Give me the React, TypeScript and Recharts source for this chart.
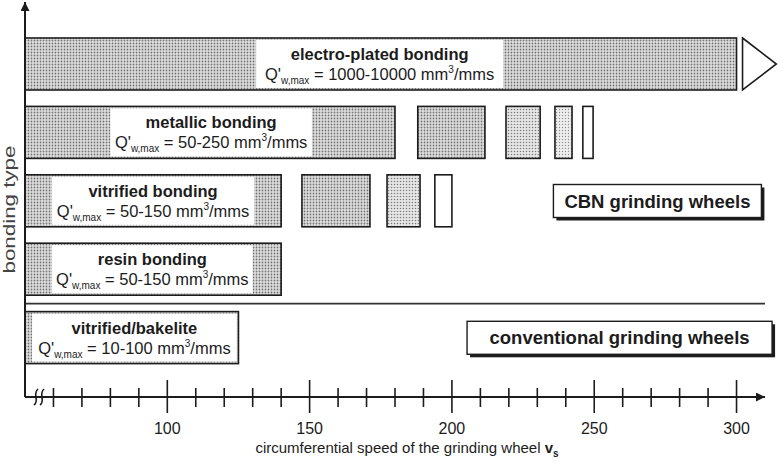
import React from 'react';
import { BarChart, Bar, XAxis, YAxis, ReferenceLine, ReferenceDot } from 'recharts';

// ---------- data ----------
const categories = [
  'electro-plated bonding',
  'metallic bonding',
  'vitrified bonding',
  'resin bonding',
  'vitrified/bakelite',
];
const qRanges = ['1000-10000', '50-250', '50-150', '50-150', '10-100'];
const mainBars: [number, number][] = [
  [50, 300],
  [50, 180],
  [50, 140],
  [50, 140],
  [50, 125],
];
const labelAreas: [number, number][] = [
  [131.2, 218],
  [80, 150.8],
  [59.5, 130.5],
  [59.5, 130],
  [52.5, 124.4],
];
const segment1: ([number, number] | null)[] = [null, [188, 211.6], [147.3, 171.2], null, null];
const segment2: ([number, number] | null)[] = [null, [219, 231], [177.2, 188.8], null, null];
const segment3: ([number, number] | null)[] = [null, [236.2, 242.2], [194, 200], null, null];
const segment4: ([number, number] | null)[] = [null, [246, 249.6], null, null, null];
const openEnded = [true, false, false, false, false];

const groupLabels = ['CBN grinding wheels', 'conventional grinding wheels'];
const groupRows = ['vitrified bonding', 'vitrified/bakelite'];
const groupSpeeds = [272.2, 258.9];

const axisTicks = [
  50, 60, 70, 80, 90, 100, 110, 120, 130, 140, 150, 160, 170, 180, 190, 200,
  210, 220, 230, 240, 250, 260, 270, 280, 290, 300,
];
const majorTicks = [100, 150, 200, 250, 300];
const xTitle = 'circumferential speed of the grinding wheel';
const yTitle = 'bonding type';

const data = categories.map((name, i) => ({
  name,
  q: qRanges[i],
  main: mainBars[i],
  label: labelAreas[i],
  s1: segment1[i],
  s2: segment2[i],
  s3: segment3[i],
  s4: segment4[i],
  open: openEnded[i],
}));

// ---------- styling ----------
const FONT = '"Liberation Sans", Arial, Helvetica, sans-serif';
const INK = '#1c1c1c';

const ok = (...v: any[]) => v.every((n) => typeof n === 'number' && Number.isFinite(n));

const MainShape = (props: any) => {
  const { x, y, width, height, payload } = props;
  if (!ok(x, y, width, height) || width <= 0) return null;
  const tx = x + width + 6;
  return (
    <g>
      <rect x={x} y={y} width={width} height={height} fill="url(#dotsMid)" stroke={INK} strokeWidth={1.6} />
      {payload && payload.open ? (
        <path
          d={`M${tx},${y} L${tx + height * 0.65},${y + height / 2} L${tx},${y + height} Z`}
          fill="#fff"
          stroke={INK}
          strokeWidth={1.6}
        />
      ) : null}
    </g>
  );
};

const QLine = ({ x, y, range }: { x: number; y: number; range: string }) => (
  <text x={x} y={y} textAnchor="middle" fontFamily={FONT} fontSize={16.5} fill={INK}>
    <tspan>Q'</tspan>
    <tspan fontSize={10} dy={4}>w,max</tspan>
    <tspan dy={-4}>{` = ${range} mm`}</tspan>
    <tspan fontSize={10} dy={-7}>3</tspan>
    <tspan dy={7}>/mms</tspan>
  </text>
);

const LabelShape = (props: any) => {
  const { x, y, width, height, payload } = props;
  if (!ok(x, y, width, height) || width <= 0) return null;
  const cx = x + width / 2;
  const cy = y + height / 2;
  return (
    <g>
      <rect x={x} y={y + 2} width={width} height={height - 4} fill="#fff" />
      <text x={cx} y={cy - 4} textAnchor="middle" fontFamily={FONT} fontWeight="bold" fontSize={16.5} fill={INK}>
        {payload.name}
      </text>
      <QLine x={cx} y={cy + 16} range={payload.q} />
    </g>
  );
};

const fills = ['url(#dotsMid)', 'url(#dotsLight)', 'url(#dotsLighter)'];
const makeSegShape = (k: number) => (props: any) => {
  const { x, y, width, height, payload } = props;
  if (!ok(x, y, width, height) || width <= 0 || !payload) return null;
  const segs = [payload.s1, payload.s2, payload.s3, payload.s4].filter(Boolean);
  const last = k === segs.length - 1;
  const fill = last ? '#fff' : fills[Math.min(k, fills.length - 1)];
  return <rect x={x} y={y} width={width} height={height} fill={fill} stroke={INK} strokeWidth={1.6} />;
};

const AxisTick = (props: any) => {
  const { x, y, payload } = props;
  const v = payload.value;
  if (v === axisTicks[0]) {
    return (
      <g>
        {[11, 17].map((o) => (
          <path
            key={o}
            d={`M${x + o - 2},${y + 8} C${x + o + 4},${y + 4} ${x + o - 4},${y - 3} ${x + o + 2},${y - 8}`}
            fill="none"
            stroke={INK}
            strokeWidth={1.6}
          />
        ))}
      </g>
    );
  }
  const major = majorTicks.includes(v);
  return (
    <g>
      <line x1={x} x2={x} y1={y - (major ? 17 : 9)} y2={y + (major ? 16 : 10)} stroke={INK} strokeWidth={1.6} />
      {major ? (
        <text x={x} y={y + 37} textAnchor="middle" fontFamily={FONT} fontSize={16} fill={INK}>
          {v}
        </text>
      ) : null}
    </g>
  );
};

const XTitle = (props: any) => {
  const vb = props.viewBox || {};
  const cx = vb.x + vb.width / 2 + 12;
  return (
    <text x={cx} y={vb.y + 56} textAnchor="middle" fontFamily={FONT} fontSize={15} fill={INK}>
      <tspan>{xTitle + ' '}</tspan>
      <tspan fontWeight="bold">v</tspan>
      <tspan fontSize={10} fontWeight="bold" dy={4}>s</tspan>
    </text>
  );
};

const YTitle = (props: any) => {
  const vb = props.viewBox || {};
  const cx = vb.x + 15;
  const cy = vb.y + vb.height / 2 + 10;
  return (
    <text
      x={cx}
      y={cy}
      transform={`rotate(-90 ${cx} ${cy})`}
      textAnchor="middle"
      fontFamily={FONT}
      fontSize={17}
      textLength={128}
      lengthAdjust="spacingAndGlyphs"
      fill="#444"
    >
      {yTitle}
    </text>
  );
};

const GroupBox = ({ cx, cy, text }: { cx: number; cy: number; text: string }) => {
  if (!ok(cx, cy)) return null;
  const w = Math.round(text.length * 10.75) + 4;
  const h = 33;
  const x = cx - w / 2;
  const y = cy - h / 2;
  return (
    <g>
      <rect x={x + 3} y={y + 3} width={w} height={h} fill={INK} />
      <rect x={x} y={y} width={w} height={h} fill="#fff" stroke={INK} strokeWidth={1.4} />
      <text x={cx} y={cy + 6.5} textAnchor="middle" fontFamily={FONT} fontWeight="bold" fontSize={18.5} fill={INK}>
        {text}
      </text>
    </g>
  );
};

export default function App() {
  return (
    <div style={{ position: 'absolute', left: 0, top: 0, width: 782, height: 463, background: '#fff' }}>
      <svg width={0} height={0} style={{ position: 'absolute' }}>
        <defs>
          <pattern id="dotsMid" width={3} height={3} patternUnits="userSpaceOnUse">
            <rect width={3} height={3} fill="#e0e0e0" />
            <circle cx={1.5} cy={1.5} r={0.9} fill="#747474" />
          </pattern>
          <pattern id="dotsLight" width={3} height={3} patternUnits="userSpaceOnUse">
            <rect width={3} height={3} fill="#e6e6e6" />
            <circle cx={1.5} cy={1.5} r={0.8} fill="#808080" />
          </pattern>
          <pattern id="dotsLighter" width={3} height={3} patternUnits="userSpaceOnUse">
            <rect width={3} height={3} fill="#eeeeee" />
            <circle cx={1.5} cy={1.5} r={0.7} fill="#909090" />
          </pattern>
          <marker
            id="axisArrow"
            viewBox="0 0 10 10"
            refX={10}
            refY={5}
            markerWidth={11}
            markerHeight={9}
            markerUnits="userSpaceOnUse"
            orient="auto-start-reverse"
          >
            <path d="M0,0 L10,5 L0,10 z" fill={INK} />
          </marker>
        </defs>
      </svg>
      <BarChart
        width={782}
        height={463}
        data={data}
        layout="vertical"
        margin={{ top: 2, right: 17, bottom: 0, left: 0 }}
        barSize={52}
        barGap={-52}
      >
        <XAxis
          type="number"
          dataKey="main"
          domain={[50, 310]}
          ticks={axisTicks}
          interval={0}
          height={66}
          tickLine={false}
          tickSize={0}
          tickMargin={0}
          tick={<AxisTick />}
          axisLine={{ stroke: INK, strokeWidth: 2, markerEnd: 'url(#axisArrow)' }}
          label={XTitle}
        />
        <YAxis
          type="category"
          dataKey="name"
          width={25}
          tick={false}
          tickLine={false}
          padding={{ top: 28, bottom: 25 }}
          axisLine={{ stroke: INK, strokeWidth: 2, markerStart: 'url(#axisArrow)' }}
          label={YTitle}
        />
        <Bar dataKey="main" isAnimationActive={false} shape={MainShape} />
        <Bar dataKey="label" isAnimationActive={false} shape={LabelShape} />
        <Bar dataKey="s1" isAnimationActive={false} shape={makeSegShape(0)} />
        <Bar dataKey="s2" isAnimationActive={false} shape={makeSegShape(1)} />
        <Bar dataKey="s3" isAnimationActive={false} shape={makeSegShape(2)} />
        <Bar dataKey="s4" isAnimationActive={false} shape={makeSegShape(3)} />
        <ReferenceLine y={categories[4]} position="start" stroke="#333" strokeWidth={1.6} />
        {groupLabels.map((t, i) => (
          <ReferenceDot
            key={t}
            x={groupSpeeds[i]}
            y={groupRows[i]}
            r={0}
            shape={(p: any) => <GroupBox cx={p.cx} cy={p.cy} text={t} />}
          />
        ))}
      </BarChart>
    </div>
  );
}
